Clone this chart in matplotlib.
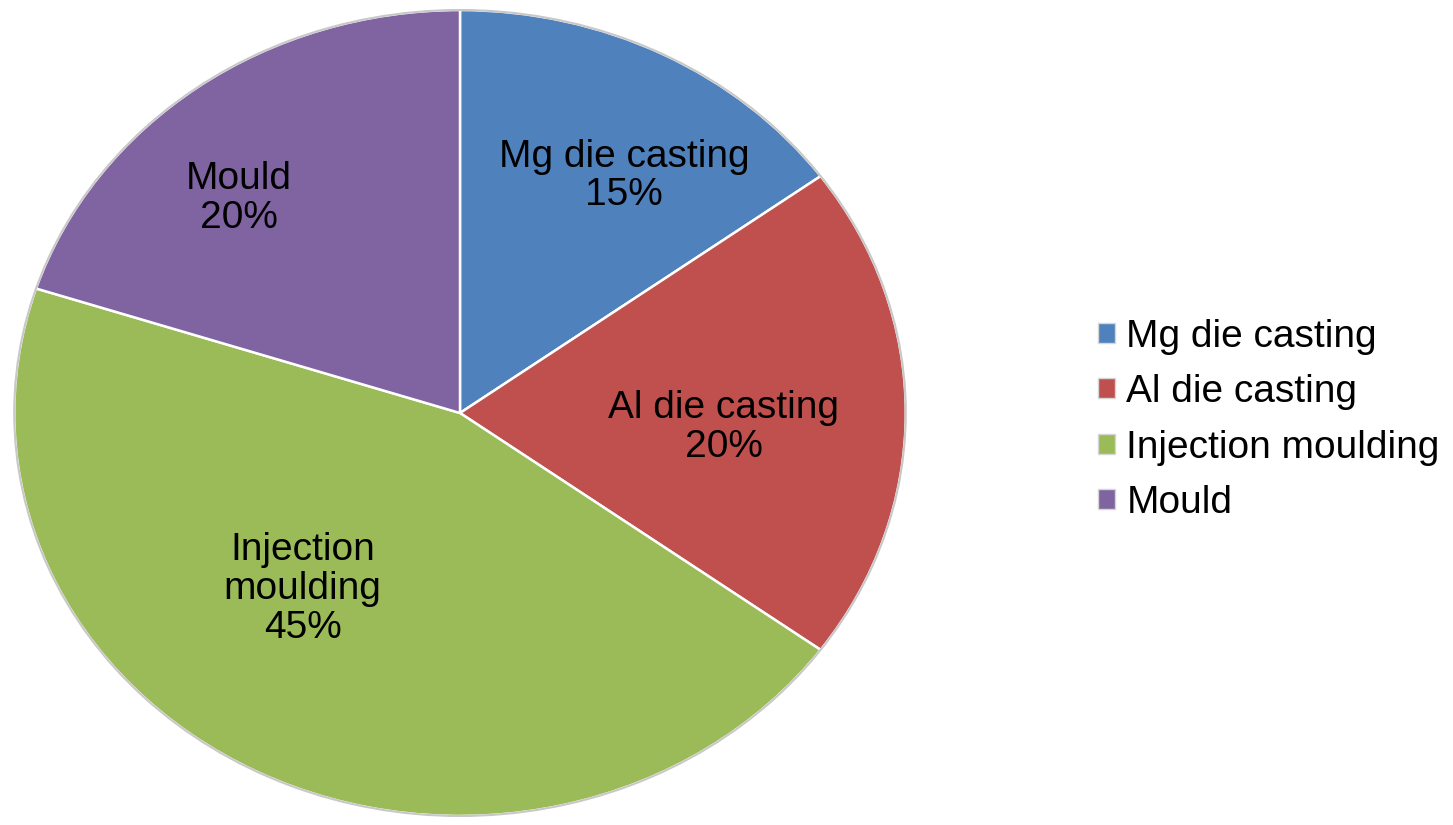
import matplotlib.pyplot as plt
from matplotlib.patches import Patch

plt.rcParams['font.family'] = ['Liberation Sans', 'DejaVu Sans']

# ----- Data -----
labels = ['Mg die casting', 'Al die casting', 'Injection moulding', 'Mould']
shares = [15, 20, 45, 20]
colors = ['#4F81BD', '#C0504D', '#9BBB59', '#8064A2']

# in-slice label text and where it sits (axes data units, pie radius = 1)
slice_text = ['Mg die casting', 'Al die casting', 'Injection\nmoulding', 'Mould']
label_pos = [(0.368, 0.588), (0.592, -0.035), (-0.353, -0.437), (-0.496, 0.533)]

# ----- Figure -----
fig = plt.figure(figsize=(14.53, 8.25), dpi=100)
ax = fig.add_axes([12 / 1453, 7 / 825, 896 / 1453, 810 / 825])

wedges, _ = ax.pie(shares, colors=colors, startangle=90, counterclock=False,
                   radius=1.0,
                   wedgeprops=dict(edgecolor='white', linewidth=1.8))

# light grey rim like the original
ax.pie([1], colors=['none'], radius=1.0,
       wedgeprops=dict(edgecolor='#c8c8c8', linewidth=1.5, fill=False))

ax.set_aspect('auto')
ax.set_xlim(-1.005, 1.005)
ax.set_ylim(-1.005, 1.005)
ax.axis('off')

for txt, val, (x, y) in zip(slice_text, shares, label_pos):
    ax.text(x, y, f'{txt}\n{val}%', ha='center', va='center',
            fontsize=28, linespacing=1.1, color='black')

# legend squares without the white wedge border
handles = [Patch(facecolor=c, edgecolor='#d6d6d6', linewidth=1.0) for c in colors]
leg = fig.legend(handles, labels, loc='center left',
                 bbox_to_anchor=(1079 / 1453, (825 - 420) / 825),
                 frameon=False, fontsize=28,
                 handlelength=0.42, handleheight=0.42,
                 handletextpad=0.3, labelspacing=0.5, borderpad=0)

fig.savefig('out.png', dpi=100, facecolor='white')
